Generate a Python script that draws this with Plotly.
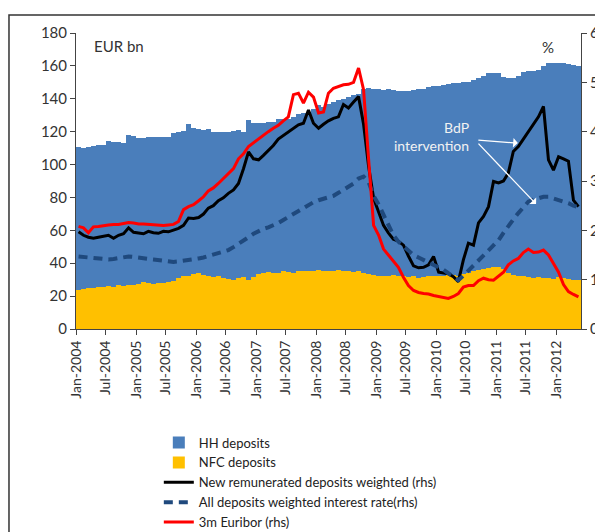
import pandas as pd
import plotly.graph_objects as go

# Monthly observations, Jan-2004 .. May-2012
months = pd.date_range("2004-01-01", periods=101, freq="MS")

hh_deposits = [
    86.5, 85.5, 85.5, 86.5, 86.5, 86.5, 88.5, 88, 87, 87, 91, 90.5,
    88.5, 87.5, 88.5, 89, 89, 89, 88, 90, 89, 88.5, 92, 88.5,
    87.5, 88, 89.5, 88.5, 87.5, 88.5, 89.5, 90.5, 90, 88.5, 97, 93.5,
    91.5, 91.5, 91.5, 92, 94, 92.5, 93.5, 95, 96, 96, 97, 98.5,
    100, 100, 101.5, 103, 103, 104.5, 106, 107.5, 108, 112, 113, 113,
    113.5, 113.5, 113.5, 112.5, 112.5, 112.5, 113.5, 113.5, 115, 114.5, 115, 115,
    116, 116, 116, 116.5, 117, 116.5, 116.5, 116.5, 116.5, 117.5, 118.5, 117.5,
    118, 116.5, 118.5, 119.5, 121.5, 124.5, 125.5, 126, 126, 129, 130.5, 131,
    130, 130.5, 130.5, 130.5, 130,
]

nfc_deposits = [
    24.0, 24.5, 25.0, 25.0, 25.5, 25.5, 26.0, 25.5, 26.5, 26.0, 27.0, 27.0,
    27.5, 28.5, 28.0, 27.5, 28.0, 28.0, 28.5, 29.0, 31.0, 32.0, 32.5, 33.5,
    34.0, 33.0, 32.0, 31.5, 32.0, 31.0, 30.5, 30.0, 31.0, 31.5, 30.0, 31.5,
    33.5, 34.0, 34.5, 34.0, 34.0, 35.0, 34.5, 34.0, 35.0, 35.5, 35.0, 35.5,
    36.0, 35.0, 35.5, 35.0, 36.0, 35.5, 35.0, 34.5, 35.0, 34.0, 33.5, 33.0,
    32.5, 32.0, 32.5, 33.0, 32.5, 32.0, 31.5, 32.0, 31.0, 31.5, 32.0, 32.5,
    32.0, 32.5, 33.0, 33.0, 32.5, 33.5, 34.0, 35.0, 36.0, 36.5, 37.0, 38.0,
    37.5, 36.5, 34.0, 33.0, 32.5, 32.0, 31.5, 31.0, 31.5, 31.0, 31.0, 30.5,
    31.5, 31.0, 30.5, 30.0, 30.0,
]

new_remunerated = [
    1.97, 1.90, 1.86, 1.84, 1.86, 1.88, 1.90, 1.84, 1.90, 1.93, 2.05, 1.96,
    1.95, 1.93, 1.98, 1.95, 1.94, 1.98, 1.97, 2.01, 2.04, 2.10, 2.25, 2.24,
    2.26, 2.33, 2.45, 2.50, 2.60, 2.66, 2.75, 2.82, 2.95, 3.25, 3.59, 3.45,
    3.43, 3.52, 3.62, 3.72, 3.85, 3.92, 4.00, 4.08, 4.14, 4.17, 4.44, 4.17,
    4.07, 4.15, 4.22, 4.27, 4.30, 4.55, 4.48, 4.60, 4.71, 4.15, 3.30, 2.65,
    2.38, 2.10, 1.95, 1.82, 1.78, 1.70, 1.48, 1.28, 1.24, 1.25, 1.30, 1.47,
    1.15, 1.13, 1.12, 1.06, 0.96, 1.40, 1.74, 1.70, 2.15, 2.28, 2.48, 2.99,
    2.96, 3.00, 3.16, 3.60, 3.70, 3.85, 4.00, 4.14, 4.30, 4.51, 3.43, 3.22,
    3.49, 3.45, 3.40, 2.61, 2.48,
]

all_deposits_rate = [
    1.47, 1.46, 1.45, 1.44, 1.42, 1.40, 1.41, 1.42, 1.44, 1.46, 1.47, 1.46,
    1.44, 1.43, 1.42, 1.41, 1.40, 1.38, 1.36, 1.36, 1.37, 1.38, 1.40, 1.41,
    1.43, 1.45, 1.48, 1.50, 1.53, 1.56, 1.60, 1.66, 1.72, 1.78, 1.86, 1.93,
    1.99, 2.03, 2.06, 2.10, 2.15, 2.21, 2.27, 2.33, 2.40, 2.46, 2.52, 2.57,
    2.61, 2.64, 2.67, 2.70, 2.76, 2.82, 2.88, 2.95, 3.05, 3.09, 2.98, 2.70,
    2.52, 2.30, 2.08, 1.90, 1.77, 1.68, 1.60, 1.50, 1.45, 1.40, 1.36, 1.32,
    1.26, 1.20, 1.13, 1.05, 0.99, 1.08, 1.18, 1.30, 1.40, 1.48, 1.58, 1.70,
    1.80, 1.95, 2.10, 2.22, 2.35, 2.48, 2.58, 2.62, 2.66, 2.68, 2.68, 2.65,
    2.61, 2.58, 2.55, 2.50, 2.47,
]

euribor_3m = [
    2.08, 2.05, 1.95, 2.07, 2.08, 2.10, 2.11, 2.12, 2.12, 2.14, 2.16, 2.15,
    2.13, 2.13, 2.12, 2.12, 2.11, 2.10, 2.11, 2.12, 2.18, 2.42, 2.48, 2.52,
    2.60, 2.68, 2.80, 2.86, 2.95, 3.05, 3.15, 3.25, 3.45, 3.55, 3.70, 3.78,
    3.85, 3.92, 4.00, 4.07, 4.13, 4.22, 4.30, 4.75, 4.78, 4.58, 4.80, 4.70,
    4.38, 4.40, 4.78, 4.88, 4.92, 4.95, 4.96, 5.00, 5.29, 4.85, 3.45, 2.10,
    1.90, 1.62, 1.50, 1.38, 1.25, 1.05, 0.88, 0.78, 0.74, 0.72, 0.71, 0.68,
    0.66, 0.63, 0.62, 0.66, 0.72, 0.85, 0.88, 0.88, 0.98, 1.03, 1.00, 0.99,
    1.08, 1.15, 1.30, 1.38, 1.43, 1.55, 1.62, 1.55, 1.56, 1.60, 1.50, 1.32,
    1.15, 0.90, 0.76, 0.70, 0.65,
]

FONT = "Lato"
TXT = "#333333"

fig = go.Figure()
fig.add_trace(go.Bar(x=months, y=nfc_deposits, name="NFC deposits",
                     marker=dict(color="#FFC000", line=dict(width=0)),
                     xperiod="M1", xperiodalignment="middle", legendrank=2))
fig.add_trace(go.Bar(x=months, y=hh_deposits, name="HH deposits",
                     marker=dict(color="#4A7EBB", line=dict(width=0)),
                     xperiod="M1", xperiodalignment="middle", legendrank=1))
fig.add_trace(go.Scatter(x=months, y=new_remunerated, yaxis="y2", mode="lines",
                         name="New remunerated deposits weighted (rhs)",
                         line=dict(color="#000000", width=3),
                         xperiod="M1", xperiodalignment="middle", legendrank=3))
fig.add_trace(go.Scatter(x=months, y=all_deposits_rate, yaxis="y2", mode="lines",
                         name="All deposits weighted interest rate(rhs)",
                         line=dict(color="#1F497D", width=4, dash="9px,6px"),
                         xperiod="M1", xperiodalignment="middle", legendrank=4))
fig.add_trace(go.Scatter(x=months, y=euribor_3m, yaxis="y2", mode="lines",
                         name="3m Euribor (rhs)",
                         line=dict(color="#FF0000", width=3),
                         xperiod="M1", xperiodalignment="middle", legendrank=5))

axis_common = dict(showgrid=False, zeroline=False, showline=True, linecolor="#444444",
                   linewidth=1, ticks="outside", ticklen=5, tickcolor="#444444",
                   tickfont=dict(family=FONT, size=15, color=TXT), automargin=False)

fig.update_layout(
    width=603, height=532,
    margin=dict(l=68, r=30, t=25, b=211, autoexpand=False),
    paper_bgcolor="white", plot_bgcolor="white",
    barmode="stack", bargap=0,
    font=dict(family=FONT, color=TXT),
    xaxis=dict(type="date", range=["2004-01-01", "2012-06-01"], tick0="2004-01-01",
               dtick="M6", tickformat="%b-%Y", tickangle=-90,
               **{**axis_common, "tickfont": dict(family=FONT, size=14, color=TXT)}),
    yaxis=dict(range=[0, 180], dtick=20, **axis_common),
    yaxis2=dict(range=[0, 6], dtick=1, overlaying="y", side="right", **axis_common),
    legend=dict(x=0.164, y=-0.333, xanchor="left", yanchor="top", traceorder="normal",
                font=dict(family=FONT, size=13, color="#222222"),
                tracegroupgap=0, bgcolor="rgba(0,0,0,0)"),
    showlegend=True,
)

fig.add_annotation(xref="paper", yref="paper", x=0.032, y=0.955, text="EUR bn",
                   showarrow=False, xanchor="left", yanchor="middle",
                   font=dict(family=FONT, size=15, color=TXT))
fig.add_annotation(xref="paper", yref="paper", x=0.935, y=0.952, text="%",
                   showarrow=False, xanchor="center", yanchor="middle",
                   font=dict(family=FONT, size=15, color=TXT))
fig.add_annotation(xref="paper", yref="paper", x=0.782, y=0.652,
                   text="BdP<br>intervention", showarrow=False, xanchor="right",
                   yanchor="middle", align="right",
                   font=dict(family=FONT, size=14, color="#F2F2F2"))
fig.add_annotation(xref="paper", yref="paper", x=0.875, y=0.628, text="",
                   showarrow=True, arrowhead=1, arrowsize=1.2, arrowwidth=1.3,
                   arrowcolor="white", ax=-41, ay=-3, axref="pixel", ayref="pixel")
fig.add_annotation(xref="paper", yref="paper", x=0.911, y=0.422, text="",
                   showarrow=True, arrowhead=1, arrowsize=1.2, arrowwidth=1.3,
                   arrowcolor="white", ax=-59, ay=-62, axref="pixel", ayref="pixel")

# outer chart frame
fig.add_shape(type="rect", xref="paper", yref="paper", x0=-0.1327, y0=-0.8,
              x1=1.1, y1=1.0608, line=dict(color="#333333", width=1.5), layer="below")

fig.write_html("out.html")
